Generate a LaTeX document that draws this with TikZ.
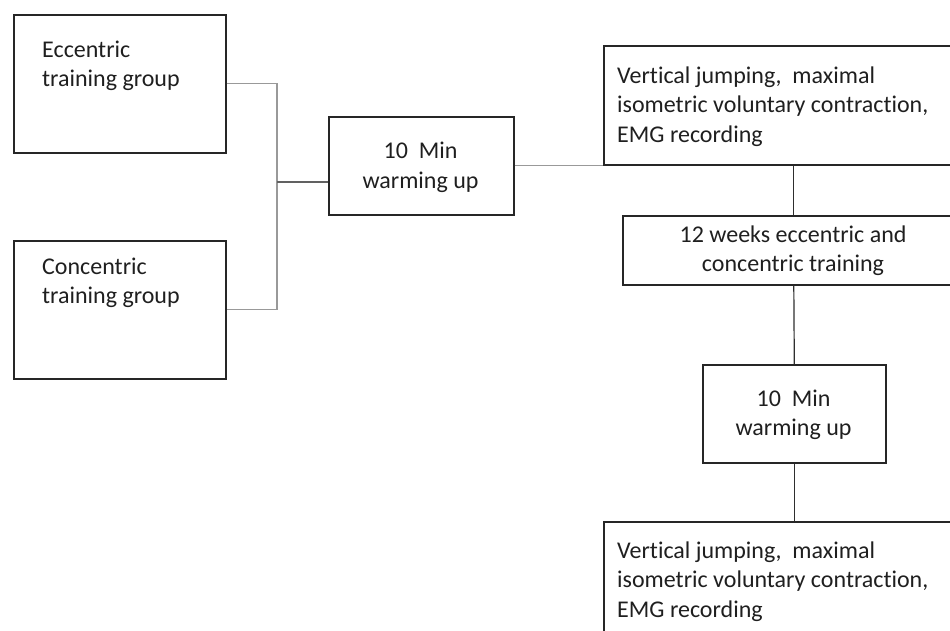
\documentclass[tikz,border=0pt]{standalone}
\usepackage{fontspec}
\setmainfont{Carlito}[Ligatures={NoCommon}]
\begin{document}
\begin{tikzpicture}[x=1pt,y=-1pt,
  box/.style={draw=black!85, line width=1.6pt, inner sep=0pt, anchor=north west, fill=none},
  txt/.style={font=\fontsize{24}{29.5}\selectfont, text=black!88, inner sep=0pt},
  lgray/.style={draw=black!40, line width=1.2pt},
  mgray/.style={draw=black!62, line width=1.2pt},
  dk/.style={draw=black!82, line width=1.2pt}]
\useasboundingbox (0,0) rectangle (950,630);
\clip (0,0) rectangle (950,630);
% boxes
\node[box, minimum width=212pt, minimum height=138pt] (ecc) at (13,14) {};
\node[box, minimum width=212pt, minimum height=138pt] (conc) at (13,240) {};
\node[box, minimum width=185pt, minimum height=98pt] (warmA) at (328,116) {};
\node[box, minimum width=367pt, minimum height=119pt] (vjA) at (603,45) {};
\node[box, minimum width=342pt, minimum height=69pt] (wk) at (622,215) {};
\node[box, minimum width=183pt, minimum height=98pt] (warmB) at (702,364) {};
\node[box, minimum width=367pt, minimum height=160pt] (vjB) at (603,521) {};
% texts (base anchor = baseline of last line)
\node[txt, align=left, anchor=base west] (eccT) at (42,86.5) {Eccentric\\training group};
\node[txt, align=left, anchor=base west] (concT) at (42,303.5) {Concentric\\training group};
\node[txt, align=center, anchor=base] (warmAT) at (420.5,188) {10\ \ Min\\warming up};
\node[txt, align=left, anchor=base west] (vjAT) at (617,142) {Vertical jumping,\ \ maximal\\isometric voluntary contraction,\\EMG recording};
\node[txt, align=center, anchor=base] (wkT) at (793,271.5) {12 weeks eccentric and\\concentric training};
\node[txt, align=center, anchor=base] (warmBT) at (793.5,435.5) {10\ \ Min\\warming up};
\node[txt, align=left, anchor=base west] (vjBT) at (617,617) {Vertical jumping,\ \ maximal\\isometric voluntary contraction,\\EMG recording};
% connectors
\coordinate (join) at (277,182);
\draw[lgray] (ecc.east) -| (join) |- (conc.east);
\draw[mgray] (join) -- (join -| warmA.west);
\draw[lgray] (warmA.east) -- (warmA.east -| vjA.west);
\draw[dk] (wk.north) -- (wk.north |- vjA.south);
\draw[dk] (wk.south) -- (warmB.north);
\draw[dk] (warmB.south) -- (warmB.south |- vjB.north);
\end{tikzpicture}
\end{document}
